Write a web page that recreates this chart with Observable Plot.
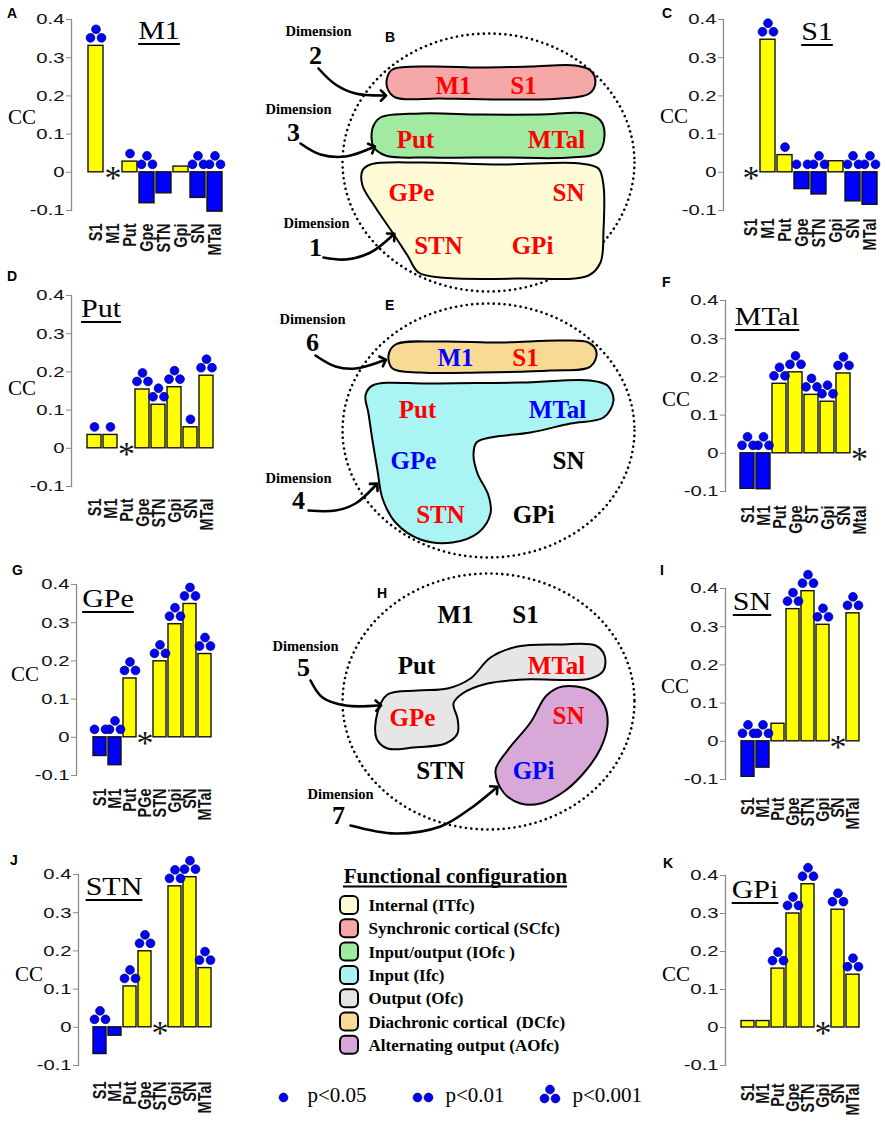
<!DOCTYPE html>
<html><head><meta charset="utf-8">
<script src="https://cdn.jsdelivr.net/npm/d3@7"></script>
<script src="https://cdn.jsdelivr.net/npm/@observablehq/plot@0.6"></script>
<style>
body{margin:0;background:#fff}
#fig{position:relative;width:885px;height:1122px;overflow:hidden;background:#fff}
#fig svg{position:absolute}
.t{position:absolute;white-space:nowrap;line-height:1;color:#000}
</style></head><body><div id="fig"></div>
<script>
// ---------- data ----------
const labelsStd = ["S1","M1","Put","Gpe","STN","Gpi","SN","MTal"];
const labelsF = ["S1","M1","Put","Gpe","ST","Gpi","SN","Mtal"];
const labelsG = ["S1","M1","Put","PGe","STN","Gpi","SN","MTal"];
const ticksCC = [-0.1, 0, 0.1, 0.2, 0.3, 0.4];

const ccM1 = [0.331, null, 0.028, -0.081, -0.055, 0.015, -0.067, -0.103];
const sigM1 = [3, 0, 1, 3, 0, 0, 3, 3];
const ccS1 = [null, 0.347, 0.045, -0.044, -0.058, 0.029, -0.076, -0.085];
const sigS1 = [0, 3, 1, 2, 3, 0, 3, 3];
const ccPut = [0.035, 0.035, null, 0.154, 0.114, 0.160, 0.055, 0.190];
const sigPut = [1, 1, 0, 3, 3, 3, 1, 3];
const ccMTal = [-0.093, -0.094, 0.182, 0.212, 0.153, 0.135, 0.209, null];
const sigMTal = [3, 3, 3, 3, 3, 3, 3, 0];
const ccGPe = [-0.049, -0.073, 0.154, null, 0.199, 0.296, 0.349, 0.218];
const sigGPe = [2, 3, 3, 0, 3, 3, 3, 3];
const ccSN = [-0.093, -0.069, 0.046, 0.346, 0.393, 0.305, null, 0.335];
const sigSN = [3, 3, 0, 3, 3, 3, 0, 3];
const ccSTN = [-0.070, -0.022, 0.107, 0.199, null, 0.369, 0.393, 0.155];
const sigSTN = [3, 0, 3, 3, 0, 3, 3, 3];
const ccGPi = [0.017, 0.017, 0.155, 0.300, 0.377, null, 0.310, 0.139];
const sigGPi = [0, 0, 3, 3, 3, 0, 3, 3];

// diagram content
const diagramNodes = ["M1","S1","Put","MTal","GPe","SN","STN","GPi"];
const nodeColorsB = ["red","red","red","red","red","red","red","red"];
const nodeColorsE = ["blue","red","red","blue","blue","black","red","black"];
const nodeColorsH = ["black","black","black","red","red","red","black","blue"];
const dimNumbers = ["2","3","1","6","4","5","7"];
const legendNames = ["Internal (ITfc)","Synchronic cortical (SCfc)","Input/output (IOfc )","Input (Ifc)","Output (Ofc)","Diachronic cortical  (DCfc)","Alternating output (AOfc)"];
const legendColors = ["#fffbd8","#f6a6a6","#9eea9e","#a9f3f3","#e4e4e4","#f8da94","#d6a6d6"];
const pLabels = ["p<0.05","p<0.01","p<0.001"];
const pDots = [1, 2, 3];

// ---------- layout ----------
const SERIF = "'Liberation Serif','Times New Roman',serif";
const SANS = "'Liberation Sans',Arial,sans-serif";
const YELLOW = "#ffff00", BLUE = "#0000ff";
const COL = {red:"#ff0000", blue:"#0000ff", black:"#000000"};
const fig = document.getElementById("fig");

function txt(s, x, base, size, o = {}) {
  const d = document.createElement("div");
  d.className = "t"; d.textContent = s;
  const serif = o.serif !== false;
  d.style.fontFamily = serif ? SERIF : SANS;
  d.style.fontSize = size + "px";
  if (o.bold) d.style.fontWeight = "bold";
  d.style.left = x + "px";
  d.style.top = (base - (serif ? 0.8375 : 0.8465) * size) + "px";
  const sx = o.sx || 1;
  if (o.anchor === "middle") d.style.transform = `translateX(-50%) scaleX(${sx})`;
  else { d.style.transformOrigin = "left"; d.style.transform = `scaleX(${sx})`; }
  if (o.underline) { d.style.textDecoration = "underline"; d.style.textDecorationThickness = "2px"; d.style.textUnderlineOffset = "4px"; }
  fig.appendChild(d);
}

const panels = [
 {letter:"A", title:"M1", labels:labelsStd, cc:ccM1, sig:sigM1, px:0, py:0, w:250, h:275, axisX:71, y04:19, ym01:210, r0:85, r1:224, labelTop:223, tX:159, tB:39, ccX:22, ccB:125, lX:7, lB:18},
 {letter:"C", title:"S1", labels:labelsStd, cc:ccS1, sig:sigS1, px:650, py:0, w:235, h:275, axisX:723, y04:19, ym01:210, r0:737, r1:883, labelTop:218, tX:817, tB:40, ccX:674, ccB:124, lX:662, lB:18},
 {letter:"D", title:"Put", labels:labelsStd, cc:ccPut, sig:sigPut, px:0, py:275, w:250, h:280, axisX:71, y04:295, ym01:486, r0:85, r1:216, labelTop:498, tX:101, tB:317, ccX:22, ccB:396, lX:7, lB:281},
 {letter:"F", title:"MTal", labels:labelsF, cc:ccMTal, sig:sigMTal, px:650, py:275, w:235, h:280, axisX:725, y04:300, ym01:491, r0:738, r1:868, labelTop:505, tX:767, tB:325, ccX:676, ccB:407, lX:662, lB:287},
 {letter:"G", title:"GPe", labels:labelsG, cc:ccGPe, sig:sigGPe, px:0, py:555, w:250, h:280, axisX:76, y04:584, ym01:775, r0:89, r1:216, labelTop:788, tX:108, tB:607, ccX:25, ccB:682, lX:12, lB:575},
 {letter:"I", title:"SN", labels:labelsStd, cc:ccSN, sig:sigSN, px:650, py:555, w:235, h:280, axisX:725, y04:588, ym01:779, r0:736, r1:864, labelTop:797, tX:752, tB:610, ccX:675, ccB:694, lX:660, lB:575},
 {letter:"J", title:"STN", labels:labelsStd, cc:ccSTN, sig:sigSTN, px:0, py:835, w:250, h:287, axisX:78, y04:874, ym01:1065, r0:90, r1:215, labelTop:1081, tX:114, tB:895, ccX:29, ccB:982, lX:10, lB:865},
 {letter:"K", title:"GPi", labels:labelsStd, cc:ccGPi, sig:sigGPi, px:650, py:835, w:235, h:287, axisX:725, y04:875, ym01:1065, r0:736, r1:864, labelTop:1083, tX:755, tB:898, ccX:676, ccB:982, lX:663, lB:868}
];

const dotStyle = {r: 4.4, fill: BLUE, stroke: "#00005a", strokeWidth: 0.7};

function barPanel(p) {
  const rows = p.labels.map((l, i) => ({l, v: p.cc[i], k: p.sig[i], b: p.cc[i] == null ? 0 : Math.max(p.cc[i], 0)}));
  const bars = rows.filter(d => d.v != null);
  const self = rows.filter(d => d.v == null);
  const svg = Plot.plot({
    width: p.w, height: p.h,
    marginLeft: p.axisX - p.px, marginTop: p.y04 - p.py, marginBottom: p.py + p.h - p.ym01, marginRight: 0,
    style: {background: "transparent", fontFamily: SANS, overflow: "visible"},
    x: {type: "band", domain: p.labels, range: [p.r0 - p.px, p.r1 - p.px], padding: 0.12, axis: null, label: null},
    y: {domain: [-0.1, 0.4], axis: null, label: null},
    color: {type: "identity"},
    marks: [
      Plot.frame({anchor: "left", stroke: "#8c8c8c", strokeWidth: 1.3}),
      Plot.axisY({ticks: ticksCC, tickSize: 5, tickPadding: 2, tickFormat: d => d === 0 ? "0" : String(d), stroke: "#8c8c8c", fill: "#111", fontSize: 15, fontFamily: SANS, label: null}),
      Plot.axisX({tickSize: 0, tickPadding: p.labelTop - p.ym01, tickRotate: -90, fontSize: 14.5, fontWeight: "bold", fontFamily: SANS, fill: "#111", label: null}),
      Plot.barY(bars, {x: "l", y: "v", fill: d => d.v >= 0 ? YELLOW : BLUE, stroke: "#111", strokeWidth: 1.4}),
      Plot.dot(rows.filter(d => d.k === 1), {x: "l", y: "b", dy: -8, ...dotStyle}),
      Plot.dot(rows.filter(d => d.k >= 2), {x: "l", y: "b", dx: -5.5, dy: -8, ...dotStyle}),
      Plot.dot(rows.filter(d => d.k >= 2), {x: "l", y: "b", dx: 5.5, dy: -8, ...dotStyle}),
      Plot.dot(rows.filter(d => d.k === 3), {x: "l", y: "b", dy: -16.5, ...dotStyle}),
      Plot.text(self, {x: "l", y: d => 0, text: d => "*", fontSize: 34, fontFamily: SERIF, dy: 6, fill: "#111"})
    ]
  });
  svg.style.left = p.px + "px"; svg.style.top = p.py + "px";
  svg.querySelectorAll('g[aria-label="y-axis tick label"] text').forEach(t => {
    const tr = t.getAttribute("transform"); if (tr) t.setAttribute("transform", tr + " scale(1.35,1)");
  });
  svg.querySelectorAll('g[aria-label="x-axis tick label"] text').forEach(t => {
    const tr = t.getAttribute("transform"); if (tr) t.setAttribute("transform", tr + " scale(1,1.3)");
  });
  fig.appendChild(svg);
  txt(p.title, p.tX, p.tB, 25, {anchor: "middle", sx: 1.2, underline: true});
  txt("CC", p.ccX, p.ccB, 21, {anchor: "middle"});
  txt(p.letter, p.lX, p.lB, 14, {serif: false, bold: true});
}
panels.forEach(barPanel);

// ---------- middle diagrams ----------
const circles = [{cx:488, cy:162, rx:146, ry:129}, {cx:488, cy:430, rx:146, ry:127}, {cx:488, cy:701, rx:146, ry:128}];
const blobs = [
  {fill:"#f6a8a8", pts:[[392,69],[430,66],[480,67],[530,66],[575,65],[590,70],[595,81],[589,93],[560,98],[500,99],[440,98],[395,97],[387,88],[387,76]]},
  {fill:"#a2eaa2", pts:[[380,117],[420,113],[480,114],[540,114],[585,113],[600,120],[604,135],[598,152],[570,157],[500,157],[430,157],[385,155],[373,146],[372,128]]},
  {fill:"#fffbd6", pts:[[370,164],[420,162],[500,164],[580,163],[598,168],[603,185],[603,230],[600,262],[588,275],[520,278],[440,277],[418,272],[407,255],[392,232],[375,207],[362,185],[362,170]]},
  {fill:"#f8da94", pts:[[395,344],[440,341],[500,342],[560,340],[588,342],[596,352],[590,366],[550,370],[480,372],[420,372],[392,368],[388,355]]},
  {fill:"#aaf4f4", pts:[[372,385],[430,383],[520,382],[590,380],[607,385],[613,400],[603,417],[570,423],[530,432],[490,437],[476,442],[473,455],[477,473],[488,495],[490,513],[478,532],[452,542],[420,539],[395,522],[382,498],[377,470],[372,440],[368,413],[365,395]]},
  {fill:"#e6e6e6", pts:[[377,712],[387,694],[417,690],[447,688],[470,678],[490,657],[517,646],[560,644],[595,645],[604,655],[603,670],[590,678],[523,679],[487,683],[462,693],[453,703],[457,718],[457,733],[445,743],[413,747],[387,748],[376,738]]},
  {fill:"#d8a8d8", pts:[[495,770],[507,750],[530,722],[546,695],[562,686],[590,690],[604,705],[607,725],[600,748],[587,768],[565,790],[540,803],[520,803],[503,792]]}
];
const arrowPaths = [
  [[318,68],[335,84],[355,93],[383,95]],
  [[300,143],[320,154],[345,156],[372,147]],
  [[323,257],[345,259],[370,252],[392,235]],
  [[315,355],[335,366],[355,368],[383,360]],
  [[308,510],[335,510],[355,503],[375,485]],
  [[310,680],[322,697],[345,705],[378,705]],
  [[350,825],[395,833],[440,826],[470,808],[495,788]]
];
const dimWordPos = [[318,35],[298,113],[316,227],[312,323],[298,482],[305,650],[340,798]];
const dimNumPos = [[315,63],[293,140],[315,255],[312,350],[298,508],[303,675],[338,823]];
const nodePosB = [[453,93],[523,93],[415,147],[556,147],[411,200],[568,200],[438,253],[532,253]];
const nodePosE = [[455,365],[525,365],[417,417],[557,417],[413,468],[568,468],[440,522],[533,522]];
const nodePosH = [[455,622],[525,622],[416,673],[556,673],[412,725],[568,723],[440,778],[533,778]];

const nodes = [];
[[nodePosB, nodeColorsB], [nodePosE, nodeColorsE], [nodePosH, nodeColorsH]].forEach(([pos, cols]) =>
  diagramNodes.forEach((n, i) => nodes.push({n, x: pos[i][0], y: pos[i][1], c: COL[cols[i]]})));
const dims = dimNumbers.map((n, i) => ({n, wx: dimWordPos[i][0], wy: dimWordPos[i][1], nx: dimNumPos[i][0], ny: dimNumPos[i][1]}));

const legendRows = legendNames.map((name, i) => ({name, fill: legendColors[i], y: 905 + i * 23.3}));
const pTextX = [307, 445, 572];
const pDotPos = [[[283,1097]], [[417,1097],[428,1097]], [[544,1098],[555,1098],[549.5,1089]]];
const pDotPts = pDots.flatMap((k, i) => pDotPos[i].map(([x, y]) => ({x, y})));

function ellipsePts(c) {
  return d3.range(0, 360, 3).map(a => ({x: c.cx + c.rx * Math.cos(a * Math.PI / 180), y: c.cy + c.ry * Math.sin(a * Math.PI / 180)}));
}
const X = d => d[0], Y = d => d[1];

const mid = Plot.plot({
  width: 400, height: 1122, margin: 0,
  style: {background: "transparent", overflow: "visible"},
  x: {domain: [255, 655], range: [0, 400], axis: null},
  y: {domain: [0, 1122], range: [0, 1122], axis: null},
  marks: [
    ...circles.map(c => Plot.line(ellipsePts(c), {x: "x", y: "y", curve: "linear-closed", stroke: "black", strokeWidth: 2.6, strokeDasharray: "0.01,5.4", strokeLinecap: "round"})),
    ...blobs.map(b => Plot.line(b.pts, {x: X, y: Y, curve: "catmull-rom-closed", fill: b.fill, stroke: "black", strokeWidth: 2})),
    ...arrowPaths.map(a => Plot.line(a, {x: X, y: Y, curve: "catmull-rom", stroke: "black", strokeWidth: 2.6, markerEnd: "arrow"})),
    Plot.text(nodes, {x: "x", y: "y", text: "n", fill: "c", fontSize: 25, fontWeight: "bold", fontFamily: SERIF, lineAnchor: "bottom"}),
    Plot.text(dims, {x: "wx", y: "wy", text: d => "Dimension", fontSize: 14.5, fontWeight: "bold", fontFamily: SERIF, lineAnchor: "bottom", fill: "black"}),
    Plot.text(dims, {x: "nx", y: "ny", text: "n", fontSize: 26, fontWeight: "bold", fontFamily: SERIF, lineAnchor: "bottom", fill: "black"}),
    Plot.text(["Functional configuration"], {x: d => 455, y: d => 882, text: d => d, fontSize: 21, fontWeight: "bold", fontFamily: SERIF, lineAnchor: "bottom", fill: "black"}),
    Plot.ruleY([886], {x1: 343, x2: 567, stroke: "black", strokeWidth: 2}),
    Plot.rect(legendRows, {x1: d => 340, x2: d => 358, y1: d => d.y - 9, y2: d => d.y + 9, rx: 5, fill: "fill", stroke: "black", strokeWidth: 2}),
    Plot.text(legendRows, {x: d => 368, y: d => d.y + 5.5, text: "name", textAnchor: "start", fontSize: 17, fontWeight: "bold", fontFamily: SERIF, lineAnchor: "bottom", fill: "black"}),
    Plot.dot(pDotPts, {x: "x", y: "y", r: 4.4, fill: BLUE, stroke: "#00005a", strokeWidth: 0.7}),
    Plot.text(pLabels, {x: (d, i) => pTextX[i], y: d => 1101, text: d => d, textAnchor: "start", fontSize: 21, fontFamily: SERIF, lineAnchor: "bottom", fill: "black"})
  ]
});
mid.style.left = "255px"; mid.style.top = "0px";
fig.appendChild(mid);
txt("B", 385, 42, 14, {serif: false, bold: true});
txt("E", 385, 310, 14, {serif: false, bold: true});
txt("H", 377, 598, 14, {serif: false, bold: true});
</script>
</body></html>
